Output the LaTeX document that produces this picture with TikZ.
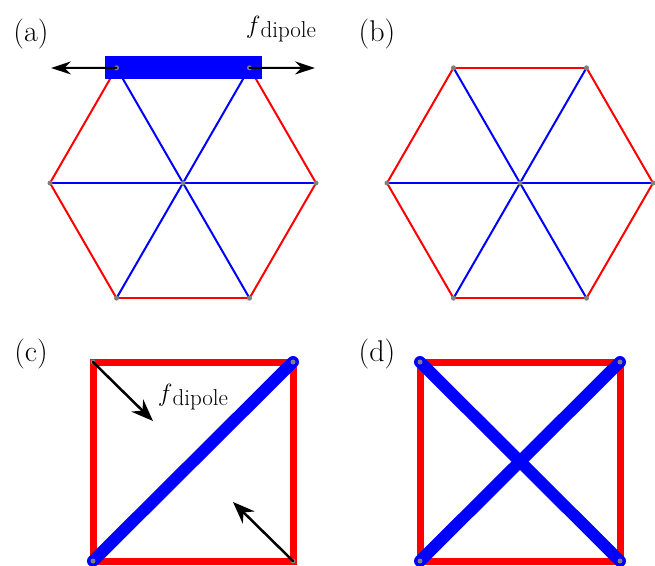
\documentclass[tikz,border=0pt]{standalone}
\usepackage{fontspec}
\usetikzlibrary{arrows.meta, calc}
\definecolor{springred}{HTML}{FF0000}
\definecolor{springblue}{HTML}{0000FF}
\definecolor{jointgrey}{HTML}{7F7F7F}
\newcommand{\fdip}{{\fontsize{30}{32}\selectfont$f$}\raisebox{-4pt}{\fontsize{23}{25}\selectfont dipole}}

\begin{document}
\begin{tikzpicture}[
    x=1pt, y=-1pt,
    line join=round,
    line cap=round,
    outer/.style={springred, line width=2pt},
    inner/.style={springblue, line width=2pt},
    thick outer/.style={springred, line width=7pt, line join=miter, line cap=butt},
    thick inner/.style={springblue, line width=12pt},
    force/.style={black, line width=2pt, -{Stealth[length=20pt, width=13pt]}},
    big force/.style={force, line width=2.5pt, -{Stealth[length=22pt, width=17pt]}},
    panellabel/.style={font=\fontsize{30}{32}\selectfont}
]

    % Page frame
    \useasboundingbox (0,0) rectangle (655,565);

    % (a) Hexagon with a stiff top bar
    \coordinate (ac) at (183,183);
    \foreach \i in {0,...,5}
        \coordinate (a\i) at ($(ac)+(\i*60:133)$);
    \foreach \i/\j in {0/1,1/2,2/3,3/4,4/5,5/0}
        \draw[outer] (a\i) -- (a\j);
    \foreach \i in {0,...,5}
        \draw[inner] (ac) -- (a\i);
    \node[fill=springblue, inner sep=0pt, minimum width=157pt, minimum height=23pt] (bar) at ($(a4)!0.5!(a5)$) {};
    \foreach \i in {0,...,5}
        \fill[jointgrey] (a\i) circle (2.5);
    \fill[jointgrey] (ac) circle (2.5);
    \coordinate (fleft) at (51,68);
    \coordinate (fright) at (315,68);
    \draw[force] (a4) -- (fleft);
    \draw[force] (a5) -- (fright);
    \node[panellabel] (la) at (31,34) {(a)};
    \node (fa) at (281,29) {\fdip};

    % (b) Hexagon, all springs equal
    \coordinate (bc) at (520,183);
    \foreach \i in {0,...,5}
        \coordinate (b\i) at ($(bc)+(\i*60:133)$);
    \foreach \i/\j in {0/1,1/2,2/3,3/4,4/5,5/0}
        \draw[outer] (b\i) -- (b\j);
    \foreach \i in {0,...,5}
        \draw[inner] (bc) -- (b\i);
    \foreach \i in {0,...,5}
        \fill[jointgrey] (b\i) circle (2.5);
    \fill[jointgrey] (bc) circle (2.5);
    \node[panellabel] (lb) at (377,34) {(b)};

    % (c) Square with one diagonal
    \coordinate (c1) at (93,362);
    \coordinate (c2) at (293,362);
    \coordinate (c3) at (293,561);
    \coordinate (c4) at (93,561);
    \draw[thick outer] (c1) -- (c2) -- (c3) -- (c4) -- cycle;
    \draw[thick inner] (c4) -- (c2);
    \foreach \i in {1,...,4}
        \fill[jointgrey] (c\i) circle (2.5);
    \coordinate (fin) at (153,421);
    \coordinate (fout) at (233,502);
    \draw[big force] (c1) -- (fin);
    \draw[big force] (c3) -- (fout);
    \node (fc) at (193,397) {\fdip};
    \node[panellabel] (lc) at (31,354) {(c)};

    % (d) Square with both diagonals
    \coordinate (d1) at (420,362);
    \coordinate (d2) at (620,362);
    \coordinate (d3) at (620,561);
    \coordinate (d4) at (420,561);
    \draw[thick outer] (d1) -- (d2) -- (d3) -- (d4) -- cycle;
    \draw[thick inner] (d4) -- (d2);
    \draw[thick inner] (d1) -- (d3);
    \foreach \i in {1,...,4}
        \fill[jointgrey] (d\i) circle (2.5);
    \node[panellabel] (ld) at (377,354) {(d)};

\end{tikzpicture}
\end{document}
